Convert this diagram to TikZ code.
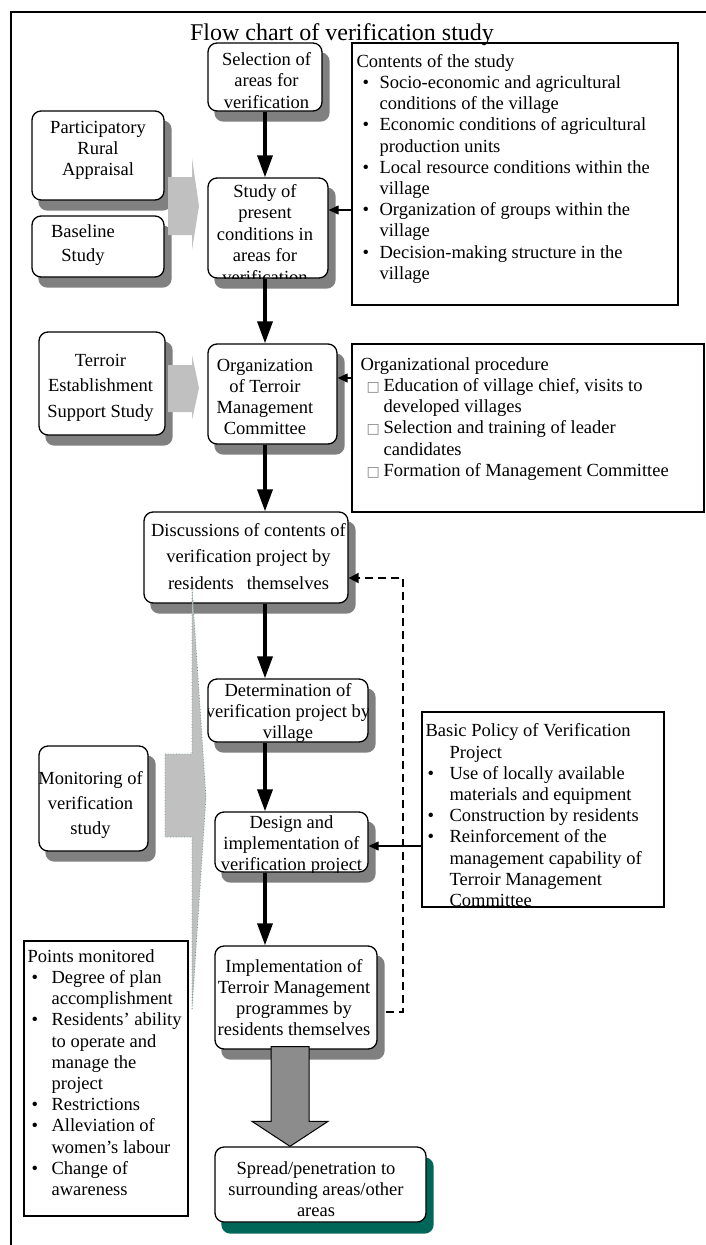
\documentclass[tikz,border=0pt]{standalone}
\usepackage{fontspec}
\setmainfont{Liberation Serif}
\newfontfamily\symfont{DejaVu Sans}
\usetikzlibrary{arrows.meta,calc,backgrounds}
\definecolor{shadowgray}{RGB}{128,128,128}
\definecolor{lightarrow}{RGB}{192,192,192}
\definecolor{tealshadow}{RGB}{0,102,88}
\definecolor{bigarrowgray}{RGB}{140,140,140}
\definecolor{dotteal}{RGB}{100,150,150}
\newcommand\bodyfont{\fontsize{18.5}{21.2}\selectfont}
\newcommand\bul[1]{\makebox[#1][l]{•}}
\newcommand\sqb[1]{\makebox[#1][l]{\symfont\fontsize{14}{14}\selectfont\color{gray}□}}
\begin{document}
\begin{tikzpicture}[x=1pt,y=-1pt,
  rbox/.style={draw, line width=1.3pt, rounded corners=9pt, fill=white, inner sep=0pt},
  sbox/.style={draw, line width=1.2pt, fill=white, inner sep=0pt},
  ctext/.style={align=center, inner sep=0pt, font=\bodyfont},
  ltext/.style={align=left, inner sep=0pt, anchor=north west, font=\bodyfont},
  flow/.style={line width=3.5pt, -{Triangle[length=22pt,width=15pt]}},
  thinflow/.style={line width=1.2pt, -{Triangle[length=10pt,width=9pt]}},
  fb/.style={line width=2pt, dash pattern=on 8pt off 5pt, -{Triangle[length=10pt,width=10pt]}},
  dropsh/.style={fill=shadowgray, rounded corners=9pt}
]
\useasboundingbox (0,0) rectangle (706,1245);

% rounded boxes
\node[rbox, minimum width=114pt, minimum height=68pt,
  path picture={\node[ctext] (sel-t) at ([shift={(1.5,3.5)}]path picture bounding box.center) {Selection of\\areas for\\verification};}] (sel) at (265,77) {};
\node[rbox, minimum width=132pt, minimum height=89pt,
  path picture={\node[ctext] (pra-t) at ([shift={(0,-5)}]path picture bounding box.center) {Participatory\\Rural\\Appraisal};}] (pra) at (98,155.5) {};
\node[rbox, minimum width=132pt, minimum height=61pt,
  path picture={\node[ctext, font=\fontsize{18.5}{24}\selectfont] (base-t) at ([shift={(-15,-1.5)}]path picture bounding box.center) {Baseline\\Study};}] (base) at (98,246.5) {};
\node[rbox, minimum width=120pt, minimum height=100pt,
  path picture={\node[ctext, font=\fontsize{18.5}{21.5}\selectfont] (study-t) at ([shift={(-3,6)}]path picture bounding box.center) {Study of\\present\\conditions in\\areas for\\verification};}] (study) at (268,228) {};
\node[rbox, minimum width=126pt, minimum height=103pt,
  path picture={\node[ctext, font=\fontsize{18.5}{25.5}\selectfont] (tess-t) at ([shift={(-1.5,4)}]path picture bounding box.center) {Terroir\\Establishment\\Support Study};}] (tess) at (102,383.5) {};
\node[rbox, minimum width=129pt, minimum height=100pt,
  path picture={\node[ctext] (org-t) at ([shift={(-7.5,3)}]path picture bounding box.center) {Organization\\of Terroir\\Management\\Committee};}] (org) at (272.5,394) {};
\node[rbox, minimum width=204pt, minimum height=91pt,
  path picture={\node[ctext, font=\fontsize{18.5}{26.5}\selectfont] (disc-t) at ([shift={(2.5,-1)}]path picture bounding box.center) {Discussions of contents of\\verification project by\\residents\hspace{13pt}themselves};}] (disc) at (246,557.5) {};
\node[rbox, minimum width=160pt, minimum height=63pt,
  path picture={\node[ctext] (det-t) at ([shift={(0,2.5)}]path picture bounding box.center) {Determination of\\verification project by\\village};}] (det) at (288,710.5) {};
\node[rbox, minimum width=153pt, minimum height=60pt,
  path picture={\node[ctext] (design-t) at ([shift={(0,3)}]path picture bounding box.center) {Design and\\implementation of\\verification project};}] (design) at (291.5,842) {};
\node[rbox, minimum width=162pt, minimum height=103pt,
  path picture={\node[ctext] (impl-t) at ([shift={(-2,0)}]path picture bounding box.center) {Implementation of\\Terroir Management\\programmes by\\residents themselves};}] (impl) at (296,997.5) {};
\node[rbox, minimum width=211pt, minimum height=75pt,
  path picture={\node[ctext] (spread-t) at ([shift={(-4.5,4.5)}]path picture bounding box.center) {Spread/penetration to\\surrounding areas/other\\areas};}] (spread) at (320.5,1184.5) {};
\node[rbox, minimum width=109pt, minimum height=105pt,
  path picture={\node[ctext, font=\fontsize{18.5}{25}\selectfont] (mon-t) at ([shift={(-3,6.5)}]path picture bounding box.center) {Monitoring of\\verification\\study};}] (mon) at (93.5,798.5) {};

% rectangular text boxes
\node[sbox, minimum width=326pt, minimum height=262pt] (contents) at (515,174) {};
\node[ltext] (contents-t) at ([shift={(5,9.8)}]contents.north west) {\strut Contents of the study\\
\hspace*{6pt}\bul{17pt}Socio-economic and agricultural\\
\hspace*{23pt}conditions of the village\\
\hspace*{6pt}\bul{17pt}Economic conditions of agricultural\\
\hspace*{23pt}production units\\
\hspace*{6pt}\bul{17pt}Local resource conditions within the\\
\hspace*{23pt}village\\
\hspace*{6pt}\bul{17pt}Organization of groups within the\\
\hspace*{23pt}village\\
\hspace*{6pt}\bul{17pt}Decision-making structure in the\\
\hspace*{23pt}village};
\node[sbox, minimum width=352pt, minimum height=168pt] (orgproc) at (528,428) {};
\node[ltext] (orgproc-t) at ([shift={(9,11.9)}]orgproc.north west) {\strut Organizational procedure\\
\hspace*{6pt}\sqb{17pt}Education of village chief, visits to\\
\hspace*{23pt}developed villages\\
\hspace*{6pt}\sqb{17pt}Selection and training of leader\\
\hspace*{23pt}candidates\\
\hspace*{6pt}\sqb{17pt}Formation of Management Committee};
\node[sbox, minimum width=242pt, minimum height=195pt] (policy) at (543,809.5) {};
\begin{scope}
\clip (policy.south west) rectangle (policy.north east);
\node[ltext] (policy-t) at ([shift={(4,10.5)}]policy.north west) {\strut Basic Policy of Verification\\
\hspace*{24pt}Project\\
\hspace*{2pt}\bul{22pt}Use of locally available\\
\hspace*{24pt}materials and equipment\\
\hspace*{2pt}\bul{22pt}Construction by residents\\
\hspace*{2pt}\bul{22pt}Reinforcement of the\\
\hspace*{24pt}management capability of\\
\hspace*{24pt}Terroir Management\\
\hspace*{24pt}Committee};
\end{scope}
\draw[line width=1.2pt] (policy.south west) -- (policy.south east);
\node[sbox, minimum width=164pt, minimum height=275pt] (points) at (106,1078.5) {};
\node[ltext] (points-t) at ([shift={(4,6.8)}]points.north west) {\strut Points monitored\\
\hspace*{4pt}\bul{20pt}Degree of plan\\
\hspace*{24pt}accomplishment\\
\hspace*{4pt}\bul{20pt}Residents’ ability\\
\hspace*{24pt}to operate and\\
\hspace*{24pt}manage the\\
\hspace*{24pt}project\\
\hspace*{4pt}\bul{20pt}Restrictions\\
\hspace*{4pt}\bul{20pt}Alleviation of\\
\hspace*{24pt}women’s labour\\
\hspace*{4pt}\bul{20pt}Change of\\
\hspace*{24pt}awareness};

% shadows
\begin{scope}[on background layer]
\foreach \n in {sel,pra,base,study,tess,org,disc,det,design,impl,mon}
  \fill[dropsh] ([shift={(7,10)}]\n.south west) rectangle ([shift={(7,10)}]\n.north east);
\fill[dropsh, fill=tealshadow] ([shift={(7,11)}]spread.south west) rectangle ([shift={(7,11)}]spread.north east);
\end{scope}

% light gray block arrows
\fill[lightarrow] (168,177) -- (192,177) -- (192,158) -- (199,206) -- (192,250) -- (192,235) -- (168,235) -- cycle;
\fill[lightarrow] (168,365) -- (192,365) -- (192,355) -- (199,388) -- (192,420) -- (192,412) -- (168,412) -- cycle;
\filldraw[fill=lightarrow, draw=dotteal, line width=0.8pt, dotted] (165,754) -- (192,754) -- (192,587) -- (206,797) -- (192,1010) -- (192,837) -- (165,837) -- cycle;

% main flow
\coordinate (axis) at (265,0);
\draw[flow] (sel.south -| axis) -- (study.north -| axis);
\draw[flow] (study.south -| axis) -- (org.north -| axis);
\draw[flow] (org.south -| axis) -- (disc.north -| axis);
\draw[flow] (disc.south -| axis) -- (det.north -| axis);
\draw[flow] (det.south -| axis) -- (design.north -| axis);
\draw[flow] (design.south -| axis) -- (impl.north -| axis);

% thin arrows from text boxes
\coordinate (ya) at (0,210);
\coordinate (yb) at (0,378);
\coordinate (yc) at (0,846);
\draw[thinflow] (contents.west |- ya) -- (study.east |- ya);
\draw[thinflow] (orgproc.west |- yb) -- (org.east |- yb);
\draw[thinflow] (policy.west |- yc) -- (design.east |- yc);

% dashed feedback
\coordinate (xd) at (403,0);
\coordinate (yd1) at (0,1012);
\coordinate (yd2) at (0,578);
\draw[fb] ($(impl.east |- yd1)+(8,0)$) -- (xd |- yd1) -- (xd |- yd2) -- (disc.east |- yd2);

% big gray arrow
\coordinate (ba) at (290,0);
\filldraw[fill=bigarrowgray, draw=black, line width=1pt]
  ($(impl.south -| ba)+(-19,-3)$) -- ($(spread.north -| ba)+(-19,-25)$) -- ($(spread.north -| ba)+(-38,-25)$)
  -- (spread.north -| ba) -- ($(spread.north -| ba)+(38,-25)$) -- ($(spread.north -| ba)+(19,-25)$)
  -- ($(impl.south -| ba)+(19,-3)$) -- cycle;

% frame and title
\draw[line width=1.8pt] (11,1245) -- (11,12) -- (706,12);
\node[font=\fontsize{24}{28}\selectfont, anchor=base, inner sep=0pt] (title) at (342,40) {Flow chart of verification study};
\end{tikzpicture}
\end{document}
